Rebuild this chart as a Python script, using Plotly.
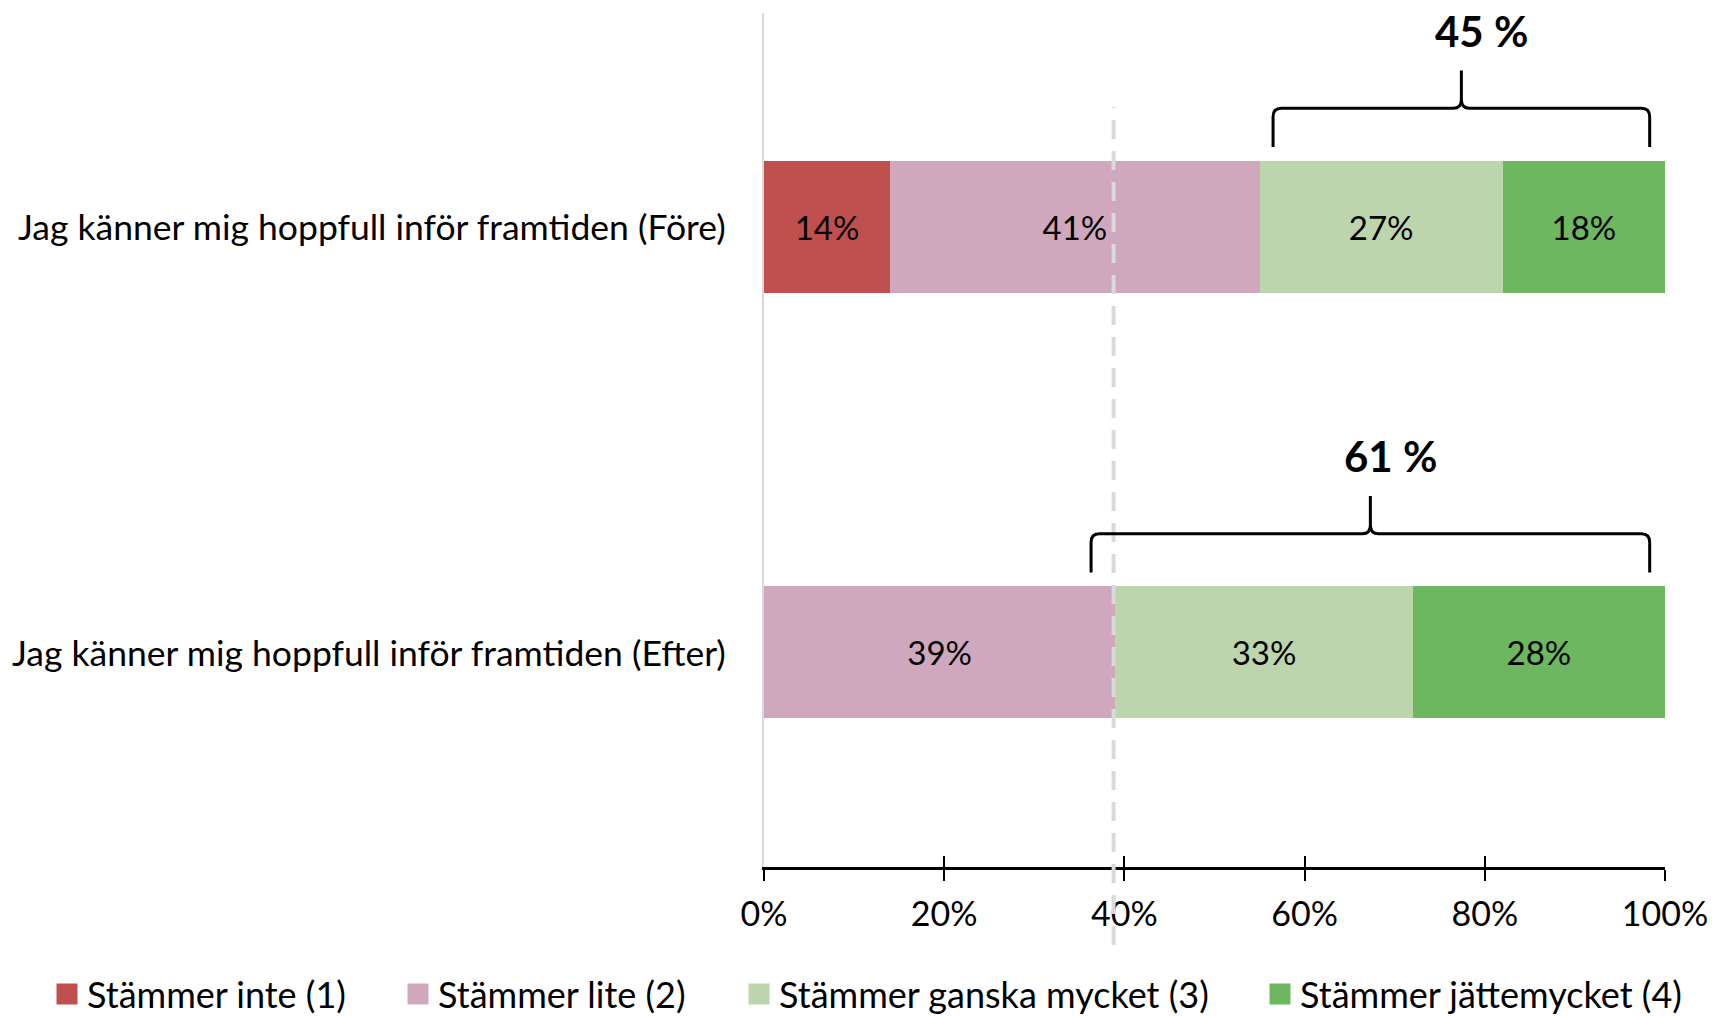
import plotly.graph_objects as go

# ---- data ----
categories = ["Jag känner mig hoppfull inför framtiden (Efter)",
              "Jag känner mig hoppfull inför framtiden (Före)"]
series_names = ["Stämmer inte (1)", "Stämmer lite (2)",
                "Stämmer ganska mycket (3)", "Stämmer jättemycket (4)"]
values_efter = [0, 39, 33, 28]
values_fore = [14, 41, 27, 18]
colors = ["#C0504D", "#CFA8BE", "#BDD5AD", "#6DB760"]
x_ticks = [0, 20, 40, 60, 80, 100]
x_tick_labels = ["0%", "20%", "40%", "60%", "80%", "100%"]
# brackets: (category index, start %, end %, label)
brace_fore = (1, 56.5, 98.3, "45 %")
brace_efter = (0, 36.3, 98.3, "61 %")
ref_line_x = 38.8

FONT = "Lato"
ypos = [0, 1]

W, H = 1716, 1016
L, R, T, B = 764, 51, 13, 149
PW = W - L - R
PH = H - T - B

def px_to_paper_x(px):
    return (px - L) / PW

def px_to_paper_y(py):
    return (H - B - py) / PH

fig = go.Figure()
for i, name in enumerate(series_names):
    vals = [values_efter[i], values_fore[i]]
    fig.add_trace(go.Bar(
        y=ypos, x=vals, name=name, orientation="h",
        marker=dict(color=colors[i], line=dict(width=0)),
        width=0.31,
        text=[f"{v}%" if v else "" for v in vals],
        textposition="inside", insidetextanchor="middle",
        textfont=dict(family=FONT, size=33, color="black"),
        textangle=0, showlegend=False,
    ))

# legend entries (one legend per item so they can be spaced like the original)
legend_text_px = [87, 438, 779, 1300]
legend_layouts = {}
for i, name in enumerate(series_names):
    key = "legend" if i == 0 else f"legend{i+1}"
    fig.add_trace(go.Scatter(
        x=[None], y=[None], mode="markers", name=name,
        marker=dict(symbol="square", size=16, color=colors[i],
                    line=dict(color=colors[i], width=6)),
        legend=key, showlegend=True, hoverinfo="skip"))
    legend_layouts[key] = dict(
        orientation="h", x=px_to_paper_x(legend_text_px[i] - 40), y=px_to_paper_y(994),
        xanchor="left", yanchor="middle", itemsizing="trace", itemwidth=30,
        font=dict(family=FONT, size=36, color="black"), bgcolor="rgba(0,0,0,0)")

shapes = []
shapes.append(dict(type="line", xref="x", yref="paper", x0=ref_line_x, x1=ref_line_x,
                   y0=px_to_paper_y(945), y1=px_to_paper_y(107), layer="above",
                   line=dict(color="#D9D9D9", width=4, dash="19px,12px")))

annotations = []
for (ci, xs, xe, lab) in [brace_fore, brace_efter]:
    yb = ci + 0.187
    yh = ci + 0.278
    yt = ci + 0.367
    xm = (xs + xe) / 2
    rx = 0.9
    ry = 0.02
    path = (f"M {xs},{yb} L {xs},{yh-ry} Q {xs},{yh} {xs+rx},{yh} "
            f"L {xm-rx},{yh} Q {xm},{yh} {xm},{yh+ry} L {xm},{yt} "
            f"M {xm},{yh+ry} Q {xm},{yh} {xm+rx},{yh} "
            f"L {xe-rx},{yh} Q {xe},{yh} {xe},{yh-ry} L {xe},{yb}")
    shapes.append(dict(type="path", xref="x", yref="y", path=path,
                       line=dict(color="black", width=3)))
    annotations.append(dict(x=xm + 2.2, y=ci + 0.46, xref="x", yref="y", text=f"<b>{lab}</b>",
                            showarrow=False, font=dict(family=FONT, size=42, color="black"),
                            xanchor="center", yanchor="middle"))

for yv, cat in zip(ypos, categories):
    annotations.append(dict(x=px_to_paper_x(728), y=yv, xref="paper", yref="y", text=cat,
                            showarrow=False, xanchor="right", yanchor="middle",
                            font=dict(family=FONT, size=35.5, color="black")))

fig.update_layout(
    width=W, height=H,
    barmode="stack",
    plot_bgcolor="white", paper_bgcolor="white",
    margin=dict(l=L, r=R, t=T, b=B, autoexpand=False),
    font=dict(family=FONT, size=30, color="black"),
    shapes=shapes, annotations=annotations,
    showlegend=True,
    **legend_layouts,
    xaxis=dict(range=[0, 100], tickvals=x_ticks, ticktext=x_tick_labels,
               showgrid=False, zeroline=False, showline=True, linecolor="black", linewidth=2.5,
               ticks="outside", ticklen=11, tickwidth=2, tickcolor="black",
               ticklabelstandoff=4, ticklabeloverflow="allow",
               tickfont=dict(family=FONT, size=34, color="black"), fixedrange=True),
    xaxis2=dict(range=[0, 100], overlaying="x", anchor="y", side="bottom",
                tickvals=x_ticks, showticklabels=False, showgrid=False, zeroline=False,
                ticks="inside", ticklen=11, tickwidth=2, tickcolor="black", showline=False),
    yaxis=dict(range=[-0.505, 1.502], showticklabels=False, showgrid=False, zeroline=False,
               showline=True, linecolor="#D9D9D9", linewidth=1.5, ticks=""),
)
fig.add_trace(go.Scatter(x=[0], y=[0], xaxis="x2", mode="markers", marker=dict(opacity=0),
                         showlegend=False, hoverinfo="skip"))

fig.write_html("out.html", config={"displayModeBar": False},
               post_script="document.body.style.margin='0';document.body.style.overflow='hidden';")
